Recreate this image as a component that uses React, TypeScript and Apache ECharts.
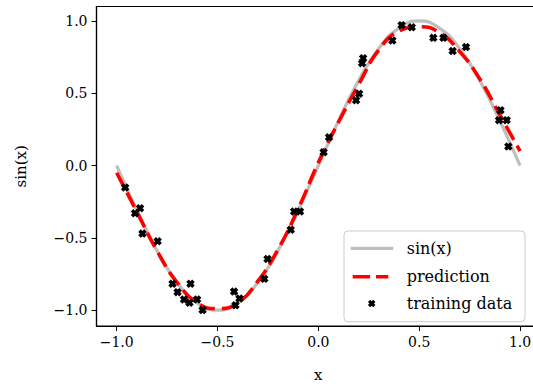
import React, { useEffect, useRef } from "react";
import * as echarts from "echarts";

const CURVE_X = [-1.0, -0.9, -0.8, -0.7, -0.6, -0.5, -0.4, -0.3, -0.2, -0.1, 0.0, 0.1, 0.2, 0.3, 0.4, 0.5, 0.6, 0.7, 0.8, 0.9, 1.0];
const SIN_Y = [0.0, -0.309, -0.588, -0.809, -0.951, -1.0, -0.951, -0.809, -0.588, -0.309, 0.0, 0.309, 0.588, 0.809, 0.951, 1.0, 0.951, 0.809, 0.588, 0.309, 0.0];
const PRED_Y = [-0.05, -0.32, -0.59, -0.81, -0.95, -0.99, -0.95, -0.8, -0.58, -0.3, 0.02, 0.3, 0.56, 0.8, 0.93, 0.96, 0.92, 0.79, 0.6, 0.35, 0.1];

const TRAIN_X = [-0.958, -0.884, -0.909, -0.872, -0.797, -0.723, -0.634, -0.698, -0.666, -0.601, -0.639, -0.574, -0.418, -0.391, -0.411, -0.268, -0.252, -0.137, -0.12, -0.091, 0.026, 0.053, 0.187, 0.202, 0.217, 0.222, 0.367, 0.413, 0.463, 0.57, 0.62, 0.666, 0.732, 0.903, 0.896, 0.934, 0.942];
const TRAIN_Y = [-0.152, -0.296, -0.33, -0.471, -0.524, -0.818, -0.818, -0.876, -0.927, -0.926, -0.949, -1.0, -0.872, -0.92, -0.967, -0.784, -0.647, -0.444, -0.318, -0.318, 0.092, 0.196, 0.452, 0.496, 0.708, 0.742, 0.865, 0.971, 0.956, 0.883, 0.883, 0.792, 0.819, 0.382, 0.314, 0.314, 0.132];

const X_TICKS = [-1.0, -0.5, 0.0, 0.5, 1.0];
const Y_TICKS = [-1.0, -0.5, 0.0, 0.5, 1.0];

const SERIES_NAMES = ["sin(x)", "prediction", "training data"];

const X_MARK = "path://M0,3L3,0L5,2L7,0L10,3L8,5L10,7L7,10L5,8L3,10L0,7L2,5Z";
const X_UNIT_PTS = [[0, 3], [3, 0], [5, 2], [7, 0], [10, 3], [8, 5], [10, 7], [7, 10], [5, 8], [3, 10], [0, 7], [2, 5]];

const FONT = "DejaVu Serif";
const GRAY = "#bfbfbf";
const RED = "#ff0000";
const fmt = (v: number) => v.toFixed(1).replace("-", "\u2212");

export default function App() {
  const ref = useRef<HTMLDivElement>(null);
  useEffect(() => {
    if (!ref.current) return;
    const chart = echarts.init(ref.current, null, { renderer: "svg" });
    const sinData = CURVE_X.map((x, i) => [x, SIN_Y[i]]);
    const predData = CURVE_X.map((x, i) => [x, PRED_Y[i]]);
    const trainData = TRAIN_X.map((x, i) => [x, TRAIN_Y[i]]);

    // legend (drawn as graphic)
    const LX = 344, LY = 231, LW = 181, LH = 90.7;
    const rowY = [248.3, 276.7, 303.6];
    const textX = 406.7;
    const mcx = 371.7, mcy = rowY[2], ms = 7.5;
    const markerPts = X_UNIT_PTS.map(([u, v]) => [mcx + (u - 5) * ms / 10, mcy + (v - 5) * ms / 10]);

    chart.setOption({
      animation: false,
      backgroundColor: "#ffffff",
      grid: {
        left: 96.5,
        top: 6.5,
        width: 443.7,
        height: 324.2,
        show: true,
        borderColor: "#000",
        borderWidth: 1.2,
        backgroundColor: "transparent",
      },
      xAxis: {
        type: "value",
        min: -1.1,
        max: 1.1,
        name: "x",
        nameLocation: "middle",
        nameGap: 41,
        nameTextStyle: { fontFamily: FONT, fontSize: 15, color: "#000" },
        splitLine: { show: false },
        axisLine: { show: true, onZero: false, lineStyle: { color: "#000", width: 1.2 } },
        axisTick: { show: true, length: 5, lineStyle: { color: "#000", width: 1 }, customValues: X_TICKS },
        axisLabel: {
          customValues: X_TICKS,
          formatter: (v: number) => fmt(v),
          margin: 9,
          fontFamily: FONT,
          fontSize: 14,
          color: "#000",
        },
      },
      yAxis: {
        type: "value",
        min: -1.11,
        max: 1.1,
        name: "sin(x)",
        nameLocation: "middle",
        nameGap: 68,
        nameRotate: 90,
        nameTextStyle: { fontFamily: FONT, fontSize: 15, color: "#000" },
        splitLine: { show: false },
        axisLine: { show: true, onZero: false, lineStyle: { color: "#000", width: 1.2 } },
        axisTick: { show: true, length: 5, lineStyle: { color: "#000", width: 1 }, customValues: Y_TICKS },
        axisLabel: {
          customValues: Y_TICKS,
          formatter: (v: number) => fmt(v),
          margin: 9,
          fontFamily: FONT,
          fontSize: 14,
          color: "#000",
        },
      },
      graphic: [
        {
          type: "rect",
          z: 100,
          shape: { x: LX, y: LY, width: LW, height: LH, r: 4 },
          style: { fill: "rgba(255,255,255,0.8)", stroke: "#cccccc", lineWidth: 1 },
        },
        {
          type: "line",
          z: 101,
          shape: { x1: 350.7, y1: rowY[0], x2: 393.3, y2: rowY[0] },
          style: { stroke: GRAY, lineWidth: 3.3 },
        },
        {
          type: "line",
          z: 101,
          shape: { x1: 352.7, y1: rowY[1], x2: 388.3, y2: rowY[1] },
          style: { stroke: RED, lineWidth: 3.6, lineDash: [17.3, 6], lineCap: "butt" },
        },
        {
          type: "polygon",
          z: 101,
          shape: { points: markerPts },
          style: { fill: "#000" },
        },
        ...SERIES_NAMES.map((name, i) => ({
          type: "text",
          z: 101,
          x: textX,
          y: rowY[i],
          style: {
            text: name,
            fontFamily: FONT,
            fontSize: 16,
            fill: "#000",
            verticalAlign: "middle",
            align: "left",
          },
        })),
      ],
      series: [
        {
          name: SERIES_NAMES[0],
          type: "line",
          data: sinData,
          smooth: true,
          symbol: "none",
          z: 2,
          lineStyle: { color: GRAY, width: 3.3 },
          itemStyle: { color: GRAY },
        },
        {
          name: SERIES_NAMES[1],
          type: "line",
          data: predData,
          smooth: true,
          symbol: "none",
          z: 3,
          lineStyle: { color: RED, width: 3.6, type: [16, 6.5], cap: "butt" },
          itemStyle: { color: RED },
        },
        {
          name: SERIES_NAMES[2],
          type: "scatter",
          data: trainData,
          symbol: X_MARK,
          symbolSize: 8.5,
          z: 4,
          itemStyle: { color: "#000", opacity: 1 },
        },
      ],
    });
    return () => chart.dispose();
  }, []);
  return (
    <div
      ref={ref}
      style={{ position: "fixed", left: 0, top: 0, width: 545, height: 387 }}
    />
  );
}
